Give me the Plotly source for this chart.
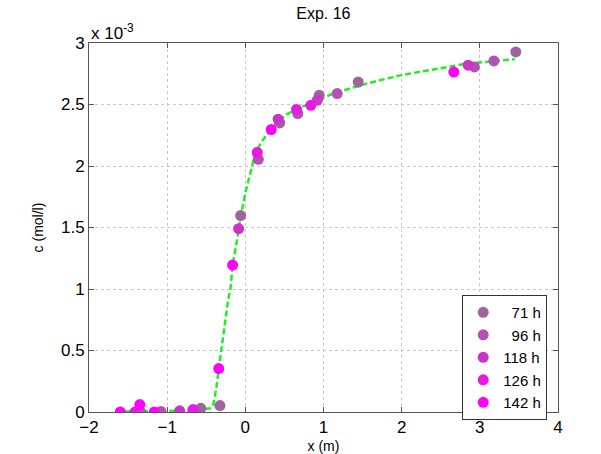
import plotly.graph_objects as go

# values of c are in units of 10^-3 mol/l
series_names = ["71 h", "96 h", "118 h", "126 h", "142 h"]
series_colors = ["#9C669C", "#B550B5", "#CC33CC", "#E619E6", "#FF00FF"]

x_71 = [-1.34, -0.57, -0.325, -0.06, 0.44, 0.945, 1.444, 3.46]
y_71 = [0.0, 0.03, 0.052, 1.597, 2.35, 2.575, 2.683, 2.927]

x_96 = [-1.08, 0.166, 0.67, 1.175, 2.93, 3.18]
y_96 = [0.005, 2.054, 2.426, 2.589, 2.805, 2.854]

x_118 = [-0.84, -0.086, 0.42, 0.92, 2.85]
y_118 = [0.01, 1.49, 2.38, 2.534, 2.82]

x_126 = [-1.41, -0.67, 0.153, 0.655, 0.839]
y_126 = [0.0, 0.02, 2.11, 2.46, 2.494]

x_142 = [-1.6, -1.35, -1.165, -0.34, -0.163, 0.331, 2.667]
y_142 = [0.0, 0.06, 0.0, 0.353, 1.195, 2.296, 2.764]

curve_x = [-1.55, -1.2, -0.8, -0.55, -0.45, -0.41, -0.37, -0.34, -0.28, -0.22, -0.19,
           -0.163, -0.1, -0.056, 0.0, 0.05, 0.093, 0.126, 0.2, 0.27, 0.4, 0.53, 0.698,
           0.83, 1.124, 1.55, 1.977, 2.4, 2.83, 3.447]
curve_y = [0.005, 0.005, 0.01, 0.02, 0.03, 0.06, 0.2, 0.35, 0.65, 0.91, 1.0,
           1.195, 1.42, 1.6, 1.78, 1.9, 2.0, 2.1, 2.19, 2.25, 2.35, 2.42, 2.475,
           2.507, 2.589, 2.67, 2.737, 2.784, 2.832, 2.868]

x_ticks = [-2, -1, 0, 1, 2, 3, 4]
y_ticks = [0, 0.5, 1, 1.5, 2, 2.5, 3]
y_tick_labels = ["0", "0.5", "1", "1.5", "2", "2.5", "3"]

FONT = "Liberation Sans, Arial, Helvetica, sans-serif"

fig = go.Figure()
fig.add_trace(go.Scatter(x=curve_x, y=curve_y, mode="lines",
                         line=dict(color="#22EE22", width=2.5, dash="6px,3px"),
                         showlegend=False, hoverinfo="skip"))

all_x = [x_71, x_96, x_118, x_126, x_142]
all_y = [y_71, y_96, y_118, y_126, y_142]
pad = ["\u2007", "\u2007", "", "", ""]
for name, col, xs, ys, p in zip(series_names, series_colors, all_x, all_y, pad):
    fig.add_trace(go.Scatter(x=xs, y=ys, mode="markers", name=p + name,
                             marker=dict(color=col, size=11, line=dict(width=0))))

axis_common = dict(showline=True, linecolor="#555555", linewidth=1, mirror="allticks",
                   ticks="inside", ticklen=5, tickcolor="#555555", automargin=False,
                   showgrid=True, gridcolor="#C8C8C8", griddash="dot", gridwidth=1,
                   zeroline=False, tickfont=dict(family=FONT, size=17, color="#000000"))

fig.update_xaxes(range=[-2, 4], tickvals=x_ticks,
                 title=dict(text="x (m)", font=dict(family=FONT, size=14, color="#000"), standoff=4),
                 **axis_common)
fig.update_yaxes(range=[0, 3], tickvals=y_ticks, ticktext=y_tick_labels,
                 title=dict(text="c (mol/l)", font=dict(family=FONT, size=14, color="#000"), standoff=14),
                 **axis_common)

fig.update_layout(
    width=601, height=454,
    margin=dict(l=89, r=43, t=43, b=42, autoexpand=False),
    paper_bgcolor="white", plot_bgcolor="white",
    title=dict(text="Exp. 16", x=0.538, xanchor="center", y=1 - 13 / 454, yanchor="middle",
               yref="container", font=dict(family=FONT, size=16, color="#000")),
    legend=dict(x=0.977, xanchor="right", y=0.317, yanchor="top",
                bgcolor="white", bordercolor="#333333", borderwidth=1,
                font=dict(family=FONT, size=15, color="#000"),
                tracegroupgap=0),
    annotations=[dict(text="x 10<sup>-3</sup>", xref="paper", yref="paper",
                      x=0, xanchor="left", y=1.0, yanchor="bottom", yshift=-2, showarrow=False,
                      font=dict(family=FONT, size=17, color="#000"))],
)

fig.write_html("out.html", post_script="document.body.style.margin='0';",
               config={"displayModeBar": False})
